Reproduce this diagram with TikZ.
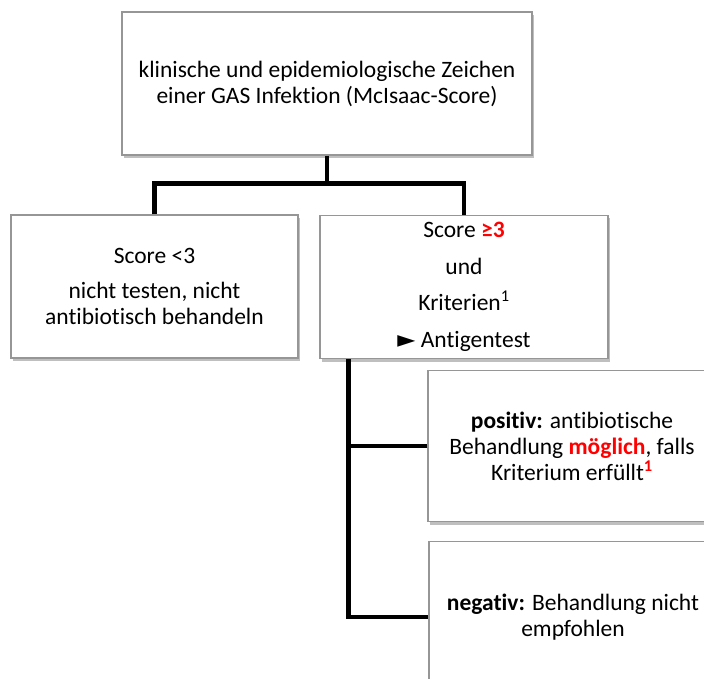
\documentclass[tikz,border=0pt]{standalone}
\usepackage{fontspec}
\setmainfont{Carlito}[Ligatures=NoCommon]
\newfontfamily\symfont{DejaVu Sans}
\usetikzlibrary{positioning,calc,shadows}
\definecolor{boxgray}{RGB}{150,150,150}
\definecolor{scorered}{RGB}{255,0,0}

\begin{document}
\begin{tikzpicture}[
    x=1pt, y=-1pt,
    box/.style={draw=boxgray, line width=1.2pt, fill=white, minimum height=143pt, align=center, font=\fontsize{23.5}{26}\selectfont, drop shadow={shadow xshift=2pt, shadow yshift=-3pt, fill=black, opacity=0.25}},
    conn/.style={line width=4.5pt}
]
\useasboundingbox (0,0) rectangle (704,679);
\node[box, minimum width=410pt] (signs) at (327, 83.5) {klinische und epidemiologische Zeichen\\ einer GAS Infektion (McIsaac-Score)};
\node[box, minimum width=287pt] (low) at (154.5, 286.5) {Score <3\\[9pt] nicht testen, nicht\\ antibiotisch behandeln};
\node[box, minimum width=288pt] (high) at (464, 287) {Score {\bfseries\color{scorered}≥3}\\[10.5pt] und\\[10.5pt] Kriterien\textsuperscript{1}\\[10.5pt] {\symfont ►} Antigentest};
\node[box, minimum width=288pt, minimum height=151pt] (pos) at (572, 446) {\textbf{positiv:} antibiotische\\ Behandlung {\bfseries\color{scorered}möglich}, falls\\ Kriterium erfüllt\textsuperscript{\bfseries\color{scorered}1}};
\node[box, minimum width=288pt, minimum height=151pt] (neg) at (573, 617) {\textbf{negativ:} Behandlung nicht\\ empfohlen};

\coordinate (split) at ($(signs.south)+(0,28)$);
\coordinate (trunk) at ([xshift=29pt]high.south west);

\draw[conn] (signs.south) -- (split);
\draw[conn] (low.north) |- (split) -| (high.north);
\draw[conn] (trunk) |- (neg.west);
\draw[conn] (pos.west) -- (pos.west -| trunk);
\end{tikzpicture}
\end{document}
